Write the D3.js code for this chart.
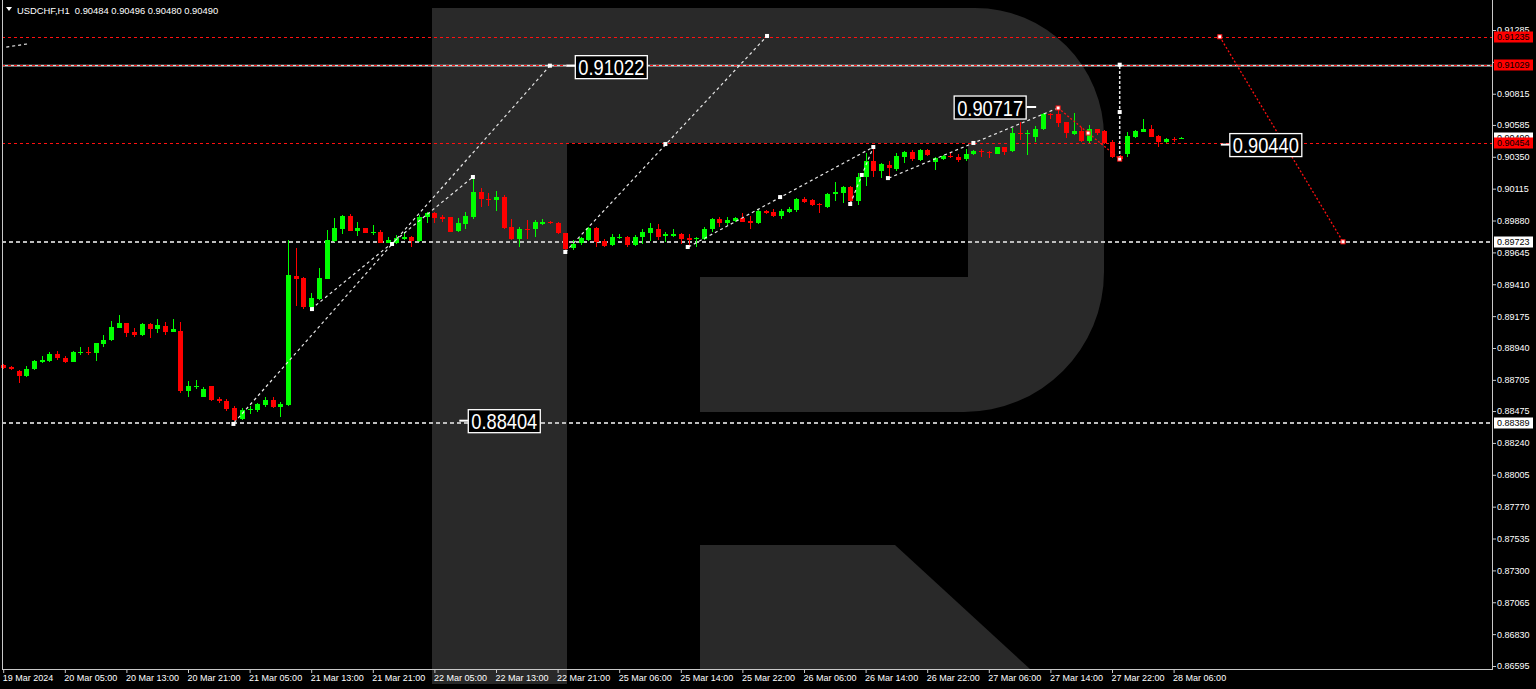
<!DOCTYPE html>
<html><head><meta charset="utf-8">
<script src="https://cdn.jsdelivr.net/npm/d3@7"></script>
<style>html,body{margin:0;padding:0;background:#000;overflow:hidden}svg{display:block}</style>
</head><body><svg id="c" width="1536" height="689"></svg>
<script>
// ---------- DATA ----------
const symbol = "USDCHF,H1";
const lastBar = ["0.90484","0.90496","0.90480","0.90490"];
const opens = [0.88814,0.88802,0.88771,0.88734,0.88785,0.88836,0.88844,0.88896,0.88868,0.88839,
0.88905,0.88913,0.88905,0.88967,0.88997,0.89090,0.89122,0.89058,0.89036,0.89117,
0.89078,0.89102,0.89060,0.89066,0.88625,0.88650,0.88581,0.88660,0.88566,0.88546,
0.88500,0.88414,0.88480,0.88483,0.88519,0.88556,0.88507,0.88519,0.89471,0.89458,
0.89244,0.89301,0.89451,0.89729,0.89817,0.89915,0.89803,0.89823,0.89790,0.89798,
0.89716,0.89716,0.89746,0.89761,0.89729,0.89904,0.89933,0.89904,0.89904,0.89803,
0.89855,0.89908,0.90093,0.90039,0.90031,0.90051,0.89830,0.89741,0.89817,0.89815,
0.89857,0.89869,0.89860,0.89786,0.89674,0.89712,0.89736,0.89823,0.89731,0.89699,
0.89753,0.89761,0.89699,0.89756,0.89790,0.89817,0.89766,0.89771,0.89778,0.89753,
0.89741,0.89741,0.89815,0.89889,0.89860,0.89879,0.89901,0.89879,0.89860,0.89952,
0.89945,0.89913,0.89945,0.89957,0.90039,0.90031,0.90002,0.89982,0.90073,0.90081,
0.90130,0.90026,0.90199,0.90321,0.90247,0.90289,0.90257,0.90351,0.90383,0.90326,
0.90400,0.90314,0.90333,0.90358,0.90351,0.90333,0.90368,0.90393,0.90388,0.90371,
0.90420,0.90395,0.90527,0.90518,0.90498,0.90552,0.90665,0.90663,0.90604,0.90515,
0.90540,0.90469,0.90555,0.90540,0.90461,0.90356,0.90371,0.90498,0.90535,0.90555,
0.90506,0.90457,0.90481,0.90484];
const highs = [0.88822,0.88809,0.88778,0.88807,0.88849,0.88881,0.88908,0.88918,0.88881,0.88918,
0.88945,0.88950,0.88979,0.89036,0.89137,0.89181,0.89126,0.89085,0.89122,0.89124,
0.89154,0.89129,0.89154,0.89129,0.88699,0.88704,0.88650,0.88663,0.88581,0.88561,
0.88512,0.88495,0.88512,0.88532,0.88581,0.88576,0.88544,0.89736,0.89677,0.89463,
0.89343,0.89527,0.89810,0.89896,0.89921,0.89928,0.89871,0.89827,0.89847,0.89810,
0.89761,0.89773,0.89798,0.89766,0.89921,0.89940,0.89940,0.89921,0.89907,0.89896,
0.89945,0.90191,0.90118,0.90081,0.90100,0.90068,0.89889,0.89835,0.89884,0.89884,
0.89889,0.89876,0.89871,0.89788,0.89736,0.89761,0.89835,0.89830,0.89744,0.89778,
0.89778,0.89768,0.89773,0.89815,0.89860,0.89855,0.89798,0.89817,0.89786,0.89781,
0.89761,0.89830,0.89896,0.89906,0.89904,0.89906,0.89935,0.89913,0.89964,0.89957,
0.89964,0.89964,0.89982,0.90043,0.90051,0.90036,0.90011,0.90081,0.90166,0.90135,
0.90135,0.90228,0.90380,0.90405,0.90302,0.90318,0.90376,0.90395,0.90400,0.90404,
0.90404,0.90351,0.90363,0.90376,0.90368,0.90405,0.90400,0.90407,0.90393,0.90422,
0.90425,0.90560,0.90609,0.90547,0.90577,0.90675,0.90675,0.90717,0.90610,0.90671,
0.90572,0.90584,0.90558,0.90544,0.90474,0.90363,0.90535,0.90544,0.90628,0.90584,
0.90511,0.90491,0.90499,0.90496];
const lows = [0.88785,0.88778,0.88682,0.88726,0.88778,0.88829,0.88836,0.88851,0.88827,0.88834,
0.88888,0.88888,0.88846,0.88950,0.88992,0.89088,0.89024,0.89019,0.89029,0.89011,
0.89053,0.89036,0.89058,0.88610,0.88581,0.88635,0.88576,0.88551,0.88532,0.88478,
0.88404,0.88409,0.88453,0.88470,0.88507,0.88495,0.88434,0.88515,0.89252,0.89225,
0.89227,0.89294,0.89449,0.89725,0.89781,0.89803,0.89768,0.89786,0.89773,0.89712,
0.89712,0.89707,0.89736,0.89682,0.89725,0.89859,0.89864,0.89871,0.89795,0.89798,
0.89817,0.89889,0.89982,0.89989,0.89952,0.89817,0.89736,0.89684,0.89741,0.89756,
0.89845,0.89852,0.89781,0.89633,0.89662,0.89700,0.89731,0.89682,0.89682,0.89692,
0.89741,0.89687,0.89692,0.89707,0.89731,0.89736,0.89724,0.89756,0.89707,0.89692,
0.89687,0.89736,0.89798,0.89830,0.89847,0.89867,0.89869,0.89815,0.89857,0.89928,
0.89904,0.89889,0.89933,0.89945,0.90011,0.89989,0.89938,0.89974,0.90026,0.90011,
0.90007,0.89994,0.90135,0.90203,0.90191,0.90208,0.90247,0.90306,0.90318,0.90322,
0.90359,0.90252,0.90326,0.90339,0.90314,0.90321,0.90363,0.90351,0.90339,0.90367,
0.90363,0.90388,0.90474,0.90363,0.90461,0.90547,0.90626,0.90567,0.90486,0.90511,
0.90457,0.90450,0.90511,0.90446,0.90342,0.90326,0.90351,0.90492,0.90530,0.90496,
0.90425,0.90450,0.90457,0.90480];
const closes = [0.88792,0.88785,0.88734,0.88785,0.88844,0.88851,0.88893,0.88868,0.88836,0.88908,
0.88913,0.88905,0.88975,0.89001,0.89093,0.89122,0.89049,0.89038,0.89117,0.89078,
0.89110,0.89060,0.89080,0.88625,0.88660,0.88660,0.88640,0.88556,0.88546,0.88488,
0.88409,0.88483,0.88490,0.88527,0.88556,0.88507,0.88527,0.89478,0.89448,0.89244,
0.89311,0.89454,0.89736,0.89823,0.89915,0.89805,0.89825,0.89790,0.89798,0.89716,
0.89736,0.89753,0.89761,0.89729,0.89904,0.89933,0.89896,0.89894,0.89798,0.89860,
0.89915,0.90093,0.90039,0.90031,0.90051,0.89823,0.89741,0.89817,0.89808,0.89869,
0.89869,0.89860,0.89786,0.89667,0.89707,0.89749,0.89823,0.89724,0.89692,0.89761,
0.89761,0.89699,0.89761,0.89798,0.89827,0.89761,0.89778,0.89778,0.89744,0.89736,
0.89749,0.89815,0.89889,0.89860,0.89884,0.89901,0.89871,0.89860,0.89952,0.89933,
0.89913,0.89952,0.89964,0.90036,0.90019,0.89994,0.89994,0.90073,0.90088,0.90130,
0.90026,0.90203,0.90321,0.90247,0.90297,0.90265,0.90358,0.90388,0.90331,0.90400,
0.90363,0.90339,0.90358,0.90346,0.90326,0.90371,0.90393,0.90383,0.90376,0.90420,
0.90388,0.90527,0.90518,0.90527,0.90555,0.90665,0.90656,0.90601,0.90523,0.90540,
0.90469,0.90552,0.90527,0.90450,0.90346,0.90333,0.90506,0.90540,0.90555,0.90498,
0.90457,0.90481,0.90472,0.90490];

const xTickIndex = [0,8,16,24,32,40,48,56,64,72,80,88,96,104,112,120,128,136,144,152];
const xTickLabels = ["19 Mar 2024","20 Mar 05:00","20 Mar 13:00","20 Mar 21:00","21 Mar 05:00","21 Mar 13:00","21 Mar 21:00","22 Mar 05:00","22 Mar 13:00","22 Mar 21:00","25 Mar 06:00","25 Mar 14:00","25 Mar 22:00","26 Mar 06:00","26 Mar 14:00","26 Mar 22:00","27 Mar 06:00","27 Mar 14:00","27 Mar 22:00","28 Mar 06:00"];
// 0.91050 tick exists but its label is hidden under the 0.91029 box
const yTickValues = [0.91285,0.91050,0.90815,0.90585,0.90350,0.90115,0.89880,0.89645,0.89410,0.89175,0.88940,0.88705,0.88475,0.88240,0.88005,0.87770,0.87535,0.87300,0.87065,0.86830,0.86595];
const yHiddenLabels = [0.91050];

// horizontal levels
const redLevels = [0.91235, 0.91029, 0.90454];
const whiteSolidLevels = [0.91022];
const greyDashLevels = [0.89723, 0.88389];
const bidPrice = 0.90490;

// forecast / trend lines: [bar1, price1, bar2, price2]
const whiteLines = [
  [30,0.88389,71,0.91022],
  [40,0.89227,61,0.90201],
  [73,0.89648,99.2,0.91241],
  [89,0.89685,113,0.90422],
  [110,0.90002,113,0.90422],
  [115,0.90193,137,0.90710],
  [0.4,0.91159,3.1,0.91182]
];
const redLines = [
  [137,0.90710,145,0.90333],
  [158,0.91235,174,0.89723]
];
const verticalLines = [[145,0.90333,145,0.91029]];
const markerBars   = [29.9,40.1,50.5,61,71,73,86,99.2,88.9,100.9,110,111.5,113,114.9,126,145,145];
const markerPrices = [0.88380,0.89227,0.89707,0.90201,0.91022,0.89648,0.90444,0.91241,0.89685,0.90053,0.90002,0.90216,0.90422,0.90193,0.90452,0.90680,0.91029];
const redMarkerBars   = [137,140.9,145,158,174];
const redMarkerPrices = [0.90710,0.90525,0.90333,0.91235,0.89723];

// big price labels
const bigLabelText  = ["0.91022","0.88404","0.90717","0.90440"];
const bigLabelBar   = [74.3,60.4,123.5,159.3];
const bigLabelPrice = [0.91022,0.88404,0.90717,0.90440];

// ---------- DRAW ----------
const svg = d3.select('#c');
const FONT = "'Liberation Sans', Arial, sans-serif";
const x = d3.scaleLinear().domain([0,153]).range([3.2,1181.3]);
const y = d3.scaleLinear().domain([0.86595,0.91285]).range([666,30]);
const AXX = 1492, AXY = 669;

svg.append('rect').attr('width',1536).attr('height',689).attr('fill','#000');

// watermark logo
svg.append('path').attr('fill','#292929')
  .attr('d','M432,8 H975 A129,129 0 0 1 1104,137 V272 A140,140 0 0 1 964,412 H700 V277 H968 V143 H567 V684 H432 Z');
svg.append('path').attr('fill','#292929')
  .attr('d','M700,545 H895 L1030,669 H700 Z');

const plot = svg.append('g');

// level lines
plot.selectAll('.wl').data(whiteSolidLevels).join('line')
  .attr('x1',2).attr('x2',AXX).attr('y1',d=>y(d)).attr('y2',d=>y(d))
  .attr('stroke','#d8d8d8').attr('stroke-width',1.6);
plot.selectAll('.gl').data(greyDashLevels).join('line')
  .attr('x1',2).attr('x2',AXX).attr('y1',d=>Math.round(y(d))).attr('y2',d=>Math.round(y(d)))
  .attr('stroke','#bdbdbd').attr('stroke-width',2).attr('stroke-dasharray','4,3');
plot.selectAll('.rl').data(redLevels).join('line')
  .attr('shape-rendering','crispEdges')
  .attr('x1',2).attr('x2',AXX).attr('y1',d=>Math.round(y(d))+0.5).attr('y2',d=>Math.round(y(d))+0.5)
  .attr('stroke','#ff1010').attr('stroke-width',1.5).attr('stroke-dasharray','3,3');

// candles
const bars = d3.range(opens.length);
const cg = plot.append('g').attr('shape-rendering','crispEdges');
const col = i => closes[i] >= opens[i] ? '#00ff00' : '#ff0000';
cg.selectAll('.wick').data(bars).join('line')
  .attr('x1',i=>Math.round(x(i))+0.5).attr('x2',i=>Math.round(x(i))+0.5)
  .attr('y1',i=>y(highs[i])).attr('y2',i=>y(lows[i]))
  .attr('stroke',col).attr('stroke-width',1);
cg.selectAll('.body').data(bars).join('rect')
  .attr('x',i=>Math.round(x(i))-2).attr('width',5)
  .attr('y',i=>y(Math.max(opens[i],closes[i])))
  .attr('height',i=>Math.max(1.2, Math.abs(y(opens[i])-y(closes[i]))))
  .attr('fill',col);

// trend lines
plot.selectAll('.tw').data(whiteLines).join('line')
  .attr('x1',d=>x(d[0])).attr('y1',d=>y(d[1])).attr('x2',d=>x(d[2])).attr('y2',d=>y(d[3]))
  .attr('stroke','#e6e6e6').attr('stroke-width',1.2).attr('stroke-dasharray','3,3');
plot.selectAll('.tr').data(redLines).join('line')
  .attr('x1',d=>x(d[0])).attr('y1',d=>y(d[1])).attr('x2',d=>x(d[2])).attr('y2',d=>y(d[3]))
  .attr('stroke','#ff1010').attr('stroke-width',1.3).attr('stroke-dasharray','2,2');
plot.selectAll('.tv').data(verticalLines).join('line')
  .attr('x1',d=>x(d[0])).attr('y1',d=>y(d[1])).attr('x2',d=>x(d[2])).attr('y2',d=>y(d[3]))
  .attr('stroke','#e6e6e6').attr('stroke-width',1.5).attr('stroke-dasharray','3,2');

// markers
plot.selectAll('.mk').data(markerBars).join('rect')
  .attr('x',(d,i)=>x(d)-2).attr('y',(d,i)=>y(markerPrices[i])-2)
  .attr('width',4).attr('height',4).attr('fill','#fff');
plot.selectAll('.mr').data(redMarkerBars).join('rect')
  .attr('x',(d,i)=>x(d)-2).attr('y',(d,i)=>y(redMarkerPrices[i])-2)
  .attr('width',4).attr('height',4).attr('fill','#fff').attr('stroke','#ff1010').attr('stroke-width',1);

// big labels
const boxTop = [-10,-11,-11,-11];
const bl = plot.selectAll('.bl').data(bigLabelText).join('g')
  .attr('transform',(d,i)=>`translate(${x(bigLabelBar[i])},${y(bigLabelPrice[i])})`);
bl.append('line').attr('x1',(d,i)=>i===2?72:-9).attr('x2',(d,i)=>i===2?82:0)
  .attr('y1',0).attr('y2',0)
  .attr('stroke','#fff').attr('stroke-width',2);
bl.append('rect').attr('x',0).attr('y',(d,i)=>boxTop[i]).attr('width',72).attr('height',23)
  .attr('fill','#000').attr('stroke','#fff').attr('stroke-width',1.3);
bl.append('text').attr('x',3).attr('y',(d,i)=>boxTop[i]+19.5)
  .attr('textLength',66).attr('lengthAdjust','spacingAndGlyphs')
  .attr('font-family',FONT).attr('font-size',22).attr('fill','#fff').text(d=>d);

// frame
svg.append('line').attr('x1',2.5).attr('x2',2.5).attr('y1',0).attr('y2',AXY).attr('stroke','#c8c8c8');
svg.append('line').attr('x1',2).attr('x2',AXX).attr('y1',AXY+0.5).attr('y2',AXY+0.5).attr('stroke','#c8c8c8');
svg.append('line').attr('x1',AXX+0.5).attr('x2',AXX+0.5).attr('y1',0).attr('y2',AXY+1).attr('stroke','#c8c8c8');

// y axis
const yAxis = d3.axisRight(y).tickValues(yTickValues).tickSize(4).tickPadding(1)
  .tickFormat(d => yHiddenLabels.includes(d) ? '' : d3.format('.5f')(d));
const ya = svg.append('g').attr('transform',`translate(${AXX},0)`).call(yAxis);
ya.select('.domain').remove();
ya.selectAll('line').attr('stroke','#c8c8c8');
ya.selectAll('text').attr('fill','#fff').attr('font-family',FONT).attr('font-size',9);

// level price boxes
const boxes = [
  {v:bidPrice, bg:'#ffffff'},
  {v:greyDashLevels[0], bg:'#ffffff'},
  {v:greyDashLevels[1], bg:'#ffffff'},
  {v:redLevels[0], bg:'#ff0000'},
  {v:redLevels[1], bg:'#ff0000'},
  {v:redLevels[2], bg:'#ff0000'}
];
const bx = svg.selectAll('.bx').data(boxes).join('g').attr('transform',d=>`translate(${AXX+2},${Math.round(y(d.v))})`);
bx.append('rect').attr('x',0).attr('y',-5.5).attr('width',39).attr('height',11).attr('fill',d=>d.bg);
bx.append('text').attr('x',3).attr('y',3.3).attr('font-family',FONT).attr('font-size',9).attr('fill','#000')
  .text(d=>d3.format('.5f')(d.v));

// x axis
const xAxis = d3.axisBottom(x).tickValues(xTickIndex).tickSize(4).tickPadding(2).tickFormat((d,i)=>xTickLabels[i]);
const xa = svg.append('g').attr('transform',`translate(0,${AXY})`).call(xAxis);
xa.select('.domain').remove();
xa.selectAll('line').attr('stroke','#c8c8c8');
xa.selectAll('text').attr('fill','#fff').attr('font-family',FONT).attr('font-size',9)
  .attr('text-anchor','start').attr('x',-1);

// header
svg.append('path').attr('d','M6,7 H12 L9,11 Z').attr('fill','#fff');
svg.append('text').attr('x',17).attr('y',13.5).attr('font-family',FONT).attr('font-size',9.4).attr('fill','#fff')
  .attr('xml:space','preserve').text(symbol + "  " + lastBar.join(" "));
</script>
</body></html>
